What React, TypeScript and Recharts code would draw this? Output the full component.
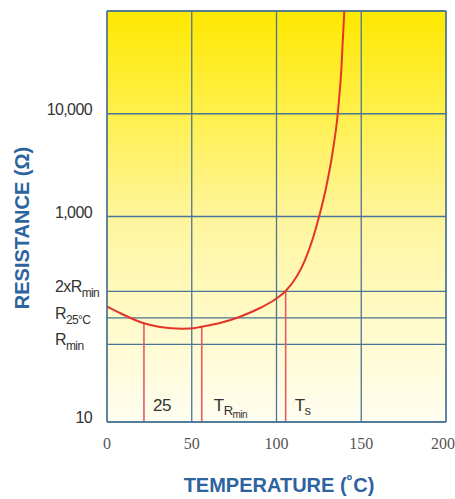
import { LineChart, Line, XAxis, YAxis, CartesianGrid, ReferenceLine, Label } from 'recharts';

// curve (°C, ohms)
const temps = [0, 7.67, 21.24, 31.27, 44.25, 48.97, 55.87, 66.67, 78.47, 90.27, 99.12, 105.43, 112.09, 116.81, 121.53, 125.37, 129.2, 133.04, 135.99, 138.23, 140];
const resist = [132.5, 115, 91.9, 84.1, 80.9, 81.1, 84.6, 91.9, 105.9, 128.7, 155.7, 188.4, 263.6, 377, 618, 1034, 1894, 4150, 9508, 26660, 100000];

const xTicks = [0, 50, 100, 150, 200];
const yTicks = [10, 57, 103, 187, 1000, 10000, 100000];
const yTickLabels = ['10', 'Rmin', 'R25°C', '2xRmin', '1,000', '10,000', ''];

// drop lines from the curve down to the axis
const markTemps = [21.8, 55.9, 105.4];
const markResist = [91.5, 84.6, 188];
const markLabels = ['25', 'TRmin', 'Ts'];

const data = temps.map((t, i) => ({ t, r: resist[i] }));

const GRID = '#4a7596';
const TITLE = '#2d639e';
const SANS = '"Liberation Sans", Arial, sans-serif';

function YTick(props: any) {
  const { y, payload } = props;
  const label = yTickLabels[yTicks.indexOf(payload.value)];
  if (!label) return null;
  const common = { fontFamily: SANS, fontSize: 16, fill: '#333', letterSpacing: -0.6 };
  if (label.startsWith('R') || label.startsWith('2x')) {
    const [main, sub] = label === 'R25°C' ? ['R', '25°C'] : label === 'Rmin' ? ['R', 'min'] : ['2xR', 'min'];
    return (
      <text x={55} y={y + 1} textAnchor="start" {...common}>
        {main}
        <tspan fontSize={12} dy={5}>{sub}</tspan>
      </text>
    );
  }
  return (
    <text x={92} y={y + 1} textAnchor="end" {...common}>
      {label}
    </text>
  );
}

function XTick(props: any) {
  const { x, payload } = props;
  return (
    <text x={x} y={449} textAnchor="middle" fontFamily='"Liberation Serif", "Times New Roman", serif' fontSize={16} fill="#555">
      {payload.value}
    </text>
  );
}

function markLabel(text: string) {
  return (props: any) => {
    const vb = props.viewBox || {};
    const x = (vb.x ?? 0) + 9;
    const y = 411;
    const common = { fontFamily: SANS, fontSize: 17, fill: '#333', letterSpacing: -0.5 };
    if (text === 'TRmin') {
      return (
        <text x={x + 3} y={y} {...common}>
          T<tspan fontSize={13} dy={4}>R</tspan>
          <tspan fontSize={10} dy={3}>min</tspan>
        </text>
      );
    }
    if (text === 'Ts') {
      return (
        <text x={x} y={y} {...common}>
          T<tspan fontSize={13} dy={4}>s</tspan>
        </text>
      );
    }
    return <text x={x} y={y} {...common}>{text}</text>;
  };
}

export default function App() {
  return (
    <div style={{ position: 'absolute', left: 0, top: 0, width: 455, height: 499, background: '#fff' }}>
      <LineChart width={455} height={499} data={data} margin={{ top: 11, right: 9, left: 0, bottom: 0 }}>
        <defs>
          <linearGradient id="bg" x1="0" y1="0" x2="0" y2="1">
            <stop offset="0%" stopColor="#ffe800" />
            <stop offset="25%" stopColor="#fff04c" />
            <stop offset="50%" stopColor="#fff59c" />
            <stop offset="75%" stopColor="#fffac8" />
            <stop offset="100%" stopColor="#fffdf0" />
          </linearGradient>
        </defs>
        <CartesianGrid fill="url(#bg)" stroke={GRID} strokeWidth={1.3} strokeOpacity={1} />
        <XAxis
          dataKey="t"
          type="number"
          domain={[0, 200]}
          ticks={xTicks}
          axisLine={{ stroke: GRID, strokeWidth: 1.3 }}
          tickLine={false}
          height={77}
          tick={<XTick />}
        >
          <Label
            content={() => (
              <text x={279} y={492} textAnchor="middle" fontFamily={SANS} fontWeight="bold" fontSize={20} fill={TITLE}>
                TEMPERATURE (˚C)
              </text>
            )}
          />
        </XAxis>
        <YAxis
          type="number"
          scale="log"
          domain={[10, 100000]}
          allowDataOverflow
          ticks={yTicks}
          axisLine={{ stroke: GRID, strokeWidth: 1.3 }}
          tickLine={false}
          width={107}
          tick={<YTick />}
        >
          <Label
            content={() => (
              <text
                x={22}
                y={228}
                transform="rotate(-90, 22, 228)"
                textAnchor="middle"
                dominantBaseline="central"
                fontFamily={SANS}
                fontWeight="bold"
                fontSize={20}
                fill={TITLE}
              >
                RESISTANCE (Ω)
              </text>
            )}
          />
        </YAxis>
        <ReferenceLine x={200} stroke={GRID} strokeWidth={1.3} />
        <ReferenceLine y={100000} stroke={GRID} strokeWidth={1.3} />
        {markTemps.map((t, i) => (
          <ReferenceLine
            key={markLabels[i]}
            segment={[{ x: t, y: markResist[i] }, { x: t, y: 10 }]}
            stroke="#e65a64"
            strokeWidth={1.6}
            label={markLabel(markLabels[i])}
          />
        ))}
        <Line
          type="monotone"
          dataKey="r"
          stroke="#e3342a"
          strokeWidth={2}
          dot={false}
          isAnimationActive={false}
        />
      </LineChart>
    </div>
  );
}
